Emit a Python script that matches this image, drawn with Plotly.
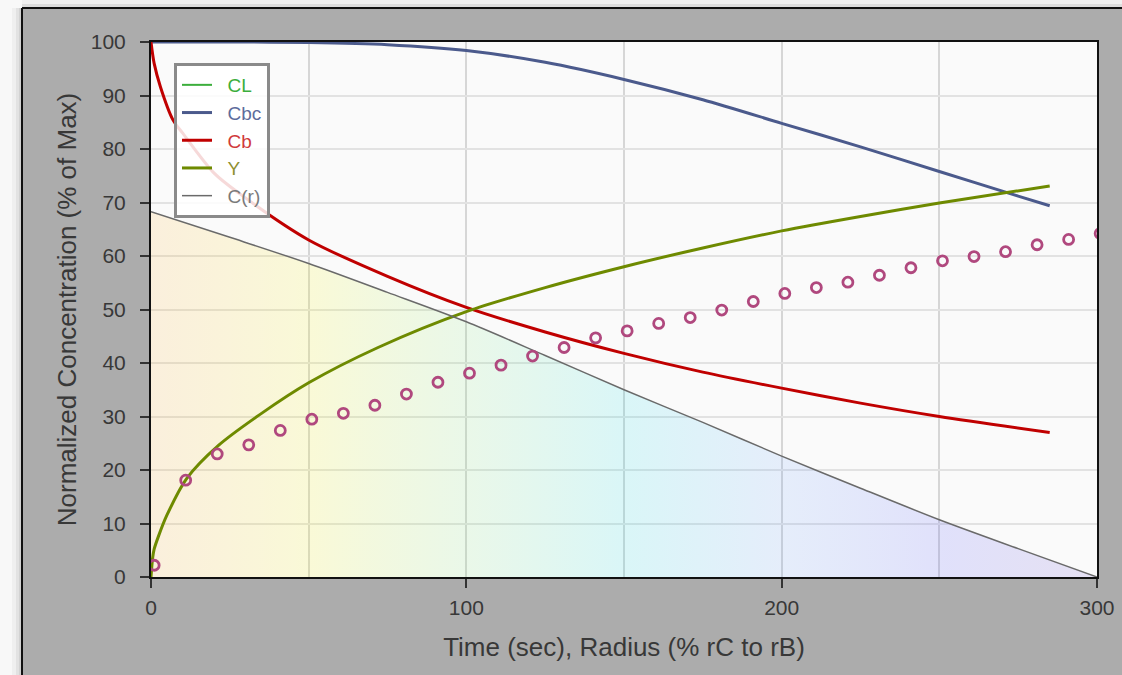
import plotly.graph_objects as go

# ---- data ----
cbc_x = [0, 25, 50, 75, 100, 125, 150, 175, 200, 225, 250, 275, 285]
cbc_y = [100, 100, 99.9, 99.5, 98.4, 96.2, 93.0, 89.2, 84.8, 80.4, 75.8, 71.2, 69.4]

cb_x = [0, 1, 3, 7, 10, 20, 28, 50, 75, 100, 125, 150, 175, 200, 225, 250, 285]
cb_y = [100, 96, 91.6, 85.4, 83, 75.5, 71.7, 63.0, 56.2, 50.4, 45.8, 41.8, 38.3, 35.3, 32.5, 30.0, 27.0]

y_x = [0, 0.5, 1, 2.3, 5, 11.3, 21.4, 34.6, 50, 72, 100, 125, 150, 175, 200, 225, 250, 285]
y_y = [0, 3.5, 5.2, 7.5, 11.5, 18.4, 24.6, 30.4, 36.3, 42.9, 49.6, 54.1, 58.0, 61.5, 64.7, 67.4, 69.9, 73.1]

cr_x = [0, 25, 50, 75, 100, 125, 150, 175, 200, 225, 250, 275, 300]
cr_y = [68.3, 63.5, 58.6, 53.2, 47.7, 41.4, 35.0, 28.9, 22.6, 16.6, 10.7, 5.3, 0]

pts_x = [1, 11, 21, 31, 41, 51, 61, 71, 81, 91, 101, 111, 121, 131, 141, 151,
         161, 171, 181, 191, 201, 211, 221, 231, 241, 251, 261, 271, 281, 291, 301]
pts_y = [2.2, 18.1, 23.0, 24.7, 27.4, 29.5, 30.6, 32.1, 34.2, 36.4, 38.1, 39.6, 41.3,
         42.9, 44.7, 46.0, 47.4, 48.5, 49.9, 51.5, 53.0, 54.1, 55.1, 56.4, 57.8, 59.1,
         59.9, 60.8, 62.1, 63.1, 64.2]

x_ticks = [0, 100, 200, 300]
y_ticks = [0, 10, 20, 30, 40, 50, 60, 70, 80, 90, 100]

# ---- styles ----
C_CL = "#3cae3c"
C_CBC = "#4b5a8c"
C_CB = "#c00000"
C_Y = "#6e8a00"
C_CR = "#6a6a6a"
C_PT = "#b0487e"

def lab(text, color):
    return '&nbsp;&nbsp;<span style="color:%s">%s</span>' % (color, text)

fig = go.Figure()

# gradient fill under C(r)
fig.add_trace(go.Scatter(
    x=cr_x, y=cr_y, mode="lines", line=dict(width=0), fill="tozeroy",
    fillgradient=dict(type="horizontal", colorscale=[
        [0.0, "rgba(255,160,0,0.12)"],
        [0.17, "rgba(245,245,0,0.14)"],
        [0.34, "rgba(110,230,110,0.12)"],
        [0.5, "rgba(0,220,230,0.13)"],
        [0.67, "rgba(90,150,255,0.13)"],
        [0.84, "rgba(80,80,255,0.15)"],
        [1.0, "rgba(110,80,200,0.15)"],
    ]),
    showlegend=False, hoverinfo="skip"))

fig.add_trace(go.Scatter(x=[None], y=[None], mode="lines", name=lab("CL", C_CL),
                         line=dict(color=C_CL, width=2)))
fig.add_trace(go.Scatter(x=cbc_x, y=cbc_y, mode="lines", name=lab("Cbc", "#5d6c9c"),
                         line=dict(color=C_CBC, width=3, shape="spline", smoothing=0.8)))
fig.add_trace(go.Scatter(x=cb_x, y=cb_y, mode="lines", name=lab("Cb", "#d03a3a"),
                         line=dict(color=C_CB, width=3, shape="spline", smoothing=0.8)))
fig.add_trace(go.Scatter(x=y_x, y=y_y, mode="lines", name=lab("Y", "#8f9030"),
                         line=dict(color=C_Y, width=3, shape="spline", smoothing=0.8)))
fig.add_trace(go.Scatter(x=cr_x, y=cr_y, mode="lines", name=lab("C(r)", "#7a7a7a"),
                         line=dict(color=C_CR, width=1.5, shape="spline", smoothing=0.8)))
fig.add_trace(go.Scatter(x=pts_x, y=pts_y, mode="markers", showlegend=False,
                         marker=dict(symbol="circle-open", size=10, color=C_PT,
                                     line=dict(width=2.8, color=C_PT))))

W, H = 1122, 675
ml, mr, mt, mb = 151, 25, 42, 98
pw, ph = W - ml - mr, H - mt - mb

def px(v):
    return (v - ml) / pw

def py(v):
    return 1 - (v - mt) / ph

shapes = []
# light surround outside the black frame (left and top), with a soft shadow
for (a, b, col) in [(0, 12, "#f8f8f8"), (12, 16, "#efefef"), (16, 19, "#e2e2e2"), (19, 22, "#d2d2d2")]:
    shapes.append(dict(type="rect", xref="paper", yref="paper", layer="above",
                       x0=px(a), x1=px(b), y0=py(H + 5), y1=py(-5),
                       fillcolor=col, line=dict(width=0)))
for (a, b, col) in [(0, 4, "#f0f0f0"), (4, 8, "#dddddd")]:
    shapes.append(dict(type="rect", xref="paper", yref="paper", layer="above",
                       x0=px(b if a == 0 else 16), x1=px(W + 5), y0=py(b), y1=py(a),
                       fillcolor=col, line=dict(width=0)))
shapes.append(dict(type="rect", xref="paper", yref="paper", layer="above",
                   x0=px(0), x1=px(22), y0=py(8), y1=py(-5),
                   fillcolor="#f8f8f8", line=dict(width=0)))
# black frame lines
shapes.append(dict(type="line", xref="paper", yref="paper", layer="above",
                   x0=px(22), x1=px(22), y0=py(H + 5), y1=py(8),
                   line=dict(color="#111111", width=2)))
shapes.append(dict(type="line", xref="paper", yref="paper", layer="above",
                   x0=px(22), x1=px(W + 5), y0=py(8), y1=py(8),
                   line=dict(color="#111111", width=2)))

fig.update_layout(
    width=W, height=H,
    margin=dict(l=ml, r=mr, t=mt, b=mb, autoexpand=False),
    paper_bgcolor="#acacac",
    plot_bgcolor="#fafafa",
    shapes=shapes,
    font=dict(family="Liberation Sans, Arial, sans-serif", size=21, color="#383838"),
    legend=dict(x=px(174), y=py(63), xanchor="left", yanchor="top",
                bgcolor="rgba(255,255,255,0.85)", bordercolor="#8a8a8a", borderwidth=3,
                font=dict(size=19), itemwidth=30, tracegroupgap=0),
    xaxis=dict(range=[0, 300], tickvals=x_ticks, ticks="outside", ticklen=9,
               tickcolor="#333333", tickwidth=2, ticklabelstandoff=2, automargin=False,
               showgrid=True, gridcolor="#d6d6d6", gridwidth=2,
               minor=dict(dtick=50, showgrid=True, gridcolor="#d6d6d6", gridwidth=2),
               showline=True, linecolor="#111111", linewidth=2, mirror=True,
               zeroline=False,
               title=dict(text="Time (sec), Radius (% rC to rB)", standoff=20,
                          font=dict(size=26))),
    yaxis=dict(range=[0, 100], tickvals=y_ticks, ticks="outside", ticklen=9,
               tickcolor="#333333", tickwidth=2, ticklabelstandoff=10, automargin=False,
               showgrid=True, gridcolor="#e2e2e2", gridwidth=2,
               showline=True, linecolor="#111111", linewidth=2, mirror=True,
               zeroline=False,
               title=dict(text="Normalized Concentration (% of Max)", standoff=7,
                          font=dict(size=26))),
)

fig.write_html("out.html", config={"displayModeBar": False},
               post_script="document.body.style.margin='0';")
